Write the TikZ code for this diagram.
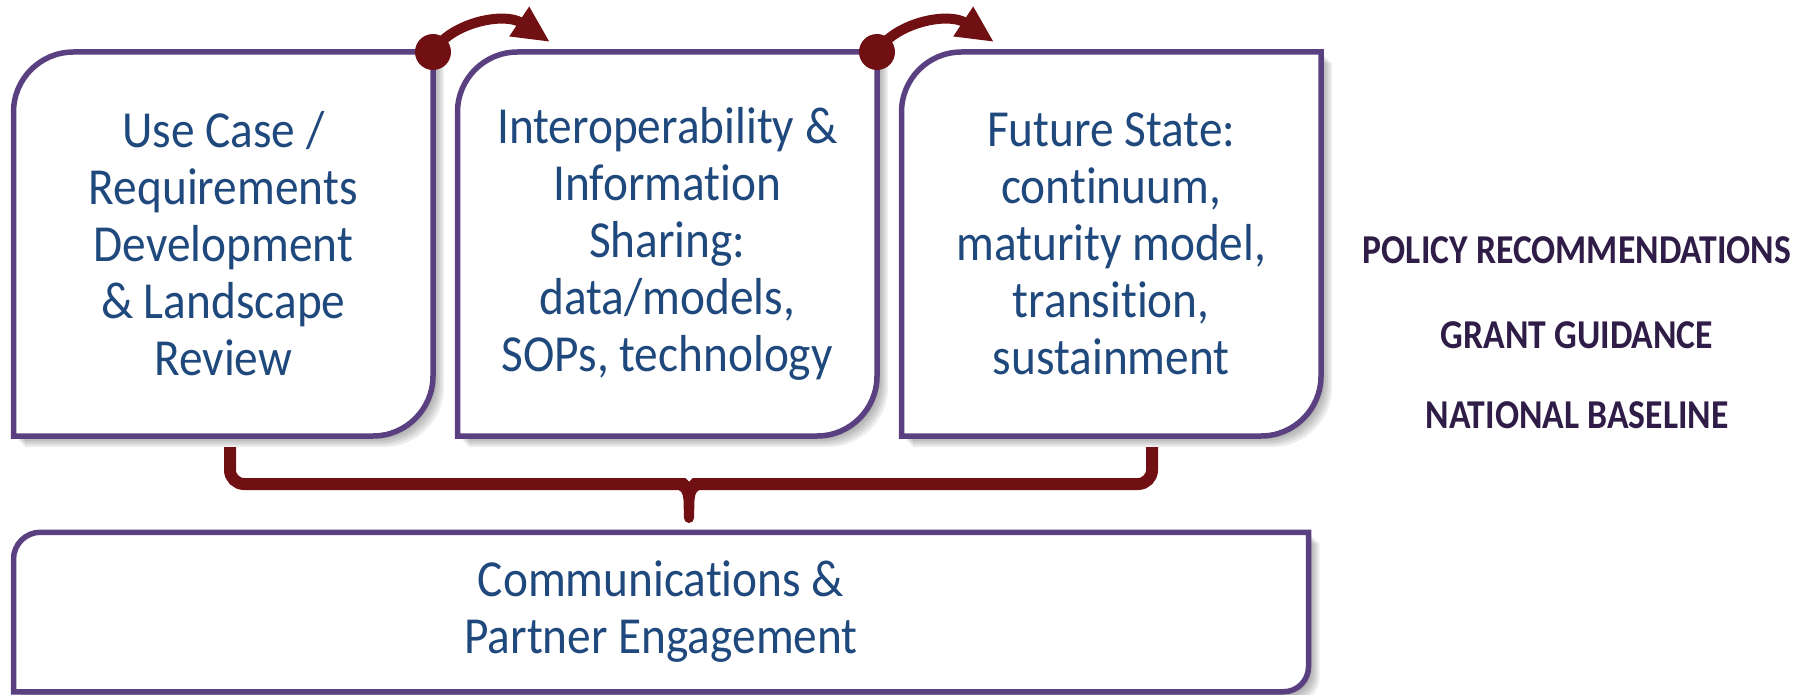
\documentclass[tikz,border=0pt]{standalone}
\usepackage{fontspec}
\setmainfont{Carlito}[RawFeature={-liga;-clig;-calt;-dlig}]
\newfontfamily\boxfont[FakeStretch=0.91,RawFeature={-liga;-clig;-calt;-dlig}]{Carlito}
\newfontfamily\sidefont[FakeStretch=0.87,RawFeature={-liga;-clig;-calt;-dlig}]{Carlito}
\newcommand{\tI}{t\kern0pt i}
\usetikzlibrary{calc,arrows.meta}
\definecolor{boxpurple}{RGB}{90,64,128}
\definecolor{textblue}{RGB}{31,73,125}
\definecolor{brick}{RGB}{112,16,19}
\definecolor{sidepurple}{RGB}{47,29,72}
\pgfdeclarelayer{shadow}
\pgfdeclarelayer{background}
\pgfsetlayers{shadow,background,main}
\tikzset{
  boxnode/.style={inner sep=0pt, outer sep=0pt, minimum width=419.5pt, minimum height=384pt,
    align=center, text=textblue, font=\boxfont\fontsize{52}{57}\selectfont},
  boxline/.style={draw=boxpurple, line width=5.5pt, fill=white},
  shadowfill/.style={fill=black, fill opacity=0.07, draw=none},
  bracket/.style={draw=brick, line width=12pt},
  arrowline/.style={draw=brick, line width=10pt, -{Triangle[length=37pt,width=33pt]}},
  dotnode/.style={circle, fill=brick, minimum size=36pt, inner sep=0pt, outer sep=0pt},
  sidetext/.style={text=sidepurple, font=\sidefont\bfseries\fontsize{41}{41}\selectfont, anchor=base},
}
% name, radius top-left, radius bottom-right, style
\newcommand{\fancyframe}[4]{%
  \path[#4] ($(#1.north west)+(0,#2)$) arc[start angle=180,end angle=270,radius=#2]
    -- (#1.north east) -- ($(#1.south east)+(0,-#3)$)
    arc[start angle=0,end angle=90,radius=#3] -- (#1.south west) -- cycle;}
\newcommand{\fancyshadow}[3]{%
  \foreach \o in {3,5,7,9,11}{%
    \begin{scope}[transform canvas={shift={(\o pt,-\o pt)}}]
      \fancyframe{#1}{#2}{#3}{shadowfill}
    \end{scope}}}
\begin{document}
\begin{tikzpicture}[x=1pt,y=-1pt]
\useasboundingbox (0,0) rectangle (1798,695);
% boxes with text
\node[boxnode] (b1) at (223.25,244) {Use Case /\\Requirements\\Development\\\& Landscape\\Review};
\node[boxnode] (b2) at (667.25,244) {Interoperability \&\\Informa\tI on\\Sharing:\\data/models,\\SOPs, technology};
\node[boxnode] (b3) at (1111.25,244) {Future State:\\con\tI nuum,\\maturity model,\\transi\tI on,\\sustainment};
\node[boxnode, minimum width=1295pt, minimum height=159.5pt] (b4) at (661,612) {Communica\tI ons \&\\Partner Engagement};
\begin{pgfonlayer}{shadow}
  \fancyshadow{b1}{60}{60}
  \fancyshadow{b2}{60}{60}
  \fancyshadow{b3}{60}{60}
  \fancyshadow{b4}{27}{25}
\end{pgfonlayer}
\begin{pgfonlayer}{background}
  \fancyframe{b1}{60}{60}{boxline}
  \fancyframe{b2}{60}{60}{boxline}
  \fancyframe{b3}{60}{60}{boxline}
  \fancyframe{b4}{27}{25}{boxline}
\end{pgfonlayer}
% curved arrows
\coordinate (c1) at (b1.north east);
\coordinate (c2) at (b2.north east);
\coordinate (t1) at (550,42);
\coordinate (t2) at (994,42);
\draw[arrowline] (c1) .. controls +(18,-30) and +(-45,-30) .. (t1);
\draw[arrowline] (c2) .. controls +(18,-30) and +(-45,-30) .. (t2);
\node[dotnode] (d1) at (c1) {};
\node[dotnode] (d2) at (c2) {};
% bracket
\coordinate (brL) at (230,447);
\coordinate (brR) at (1152,447);
\coordinate (brRb) at (1152,484);
\coordinate (brS) at (689,518);
\draw[bracket, rounded corners=14pt] (brL) |- (brRb) -- (brR);
\fill[brick] (674,489) .. controls (681,489) and (683,493) .. (683.5,500)
  -- ($(brS)+(-5,0)$) arc[start angle=180,end angle=0,radius=5] -- (694.5,500)
  .. controls (695,493) and (697,489) .. (704,489) -- cycle;
\fill[white] (685,477.5) -- (693,477.5) -- (689,481.5) -- cycle;
% side texts
\node[sidetext] (s1) at (1577,263) {POLICY RECOMMENDATIONS};
\node[sidetext] (s2) at (1577,348) {GRANT GUIDANCE};
\node[sidetext] (s3) at (1577,428) {NATIONAL BASELINE};
\end{tikzpicture}
\end{document}
